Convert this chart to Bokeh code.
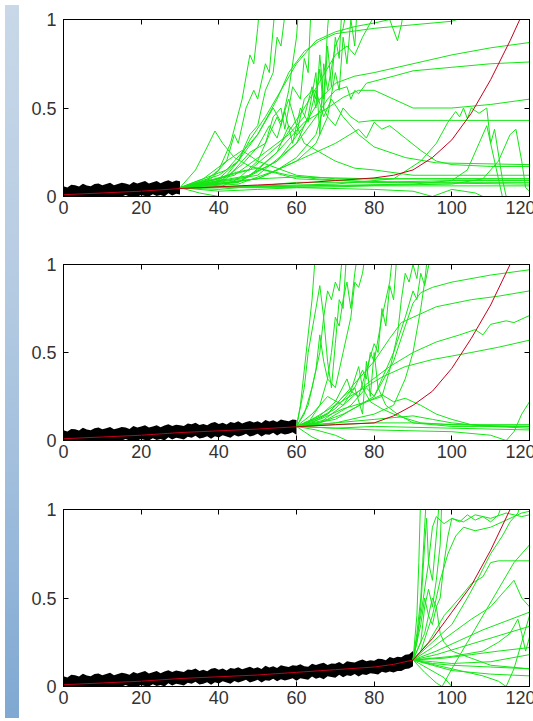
from bokeh.plotting import figure
from bokeh.models import Div, FixedTicker, LinearAxis, Range1d
from bokeh.layouts import row, column
from bokeh.embed import file_html
from bokeh.resources import INLINE

# ---------------- data ----------------
X_TICKS = [0, 20, 40, 60, 80, 100, 120]
Y_TICKS = [0, 0.5, 1]
Y_LABELS = {0: "0", 0.5: "0.5", 1: "1"}

# noisy observation band (shared), x = 0..90
OBS_X = list(range(0, 91))
OBS_HI = [.058,.051,.066,.064,.057,.072,.062,.058,.070,.074,
          .064,.070,.077,.064,.070,.077,.074,.066,.082,.074,
          .080,.087,.074,.080,.087,.075,.085,.092,.082,.090,
          .086,.082,.096,.093,.101,.088,.094,.086,.100,.105,
          .094,.101,.091,.105,.100,.109,.097,.105,.111,.102,
          .109,.099,.117,.108,.115,.105,.120,.114,.110,.120,
          .117,.126,.115,.112,.128,.122,.128,.134,.122,.130,
          .128,.138,.126,.143,.138,.135,.146,.153,.143,.149,
          .145,.157,.155,.149,.167,.160,.168,.165,.179,.182,
          .200]
OBS_LO = [.000,.000,.000,.000,.000,.000,.000,.000,.000,.000,
          .002,.000,.000,.002,.000,.000,.009,.000,.003,.000,
          .008,.003,.000,.013,.003,.009,.000,.019,.006,.015,
          .011,.005,.021,.016,.027,.011,.016,.024,.010,.024,
          .017,.030,.023,.016,.031,.023,.029,.038,.023,.029,
          .038,.023,.036,.032,.044,.029,.041,.034,.039,.047,
          .032,.046,.042,.038,.056,.044,.051,.041,.058,.053,
          .050,.066,.052,.063,.060,.071,.057,.069,.065,.075,
          .072,.068,.084,.077,.085,.079,.088,.088,.099,.102,
          .115]

# true degradation curves
RED_X = [0, 10, 20, 30, 40, 50, 60, 70, 80, 85, 90, 95, 100, 105, 110, 115, 120]
RED_Y1 = [.01, .02, .03, .045, .055, .065, .075, .09, .105, .12, .15, .22, .32, .47, .66, .88, 1.12]
RED_Y2 = [.01, .02, .03, .045, .055, .065, .078, .09, .10, .14, .20, .28, .41, .58, .77, 1.0, 1.2]
RED_Y3 = [.01, .02, .03, .045, .055, .065, .08, .095, .11, .125, .15, .27, .42, .57, .77, 1.0, 1.2]

# predicted trajectories (green), as (x, y) points
G1 = [
    [(30,.05),(36,.08),(40,.15),(43,.3),(46,.55),(48,.8),(49,.75),(50,.95),(51,1.2)],
    [(30,.05),(38,.07),(42,.12),(45,.2),(48,.35),(50,.4),(52,.6),(54,.7),(55,.9),(56,.85),(58,1.2)],
    [(30,.05),(40,.05),(45,.1),(50,.2),(53,.35),(55,.45),(56,.4),(58,.6),(60,.9),(61,1.2)],
    [(30,.05),(45,.08),(50,.15),(55,.25),(58,.4),(60,.35),(62,.55),(64,.6),(65,.5),(66,.8),(67,.55),(68,.95),(69,1.2)],
    [(30,.05),(45,.07),(55,.15),(60,.22),(65,.35),(67,.5),(68,.45),(70,.7),(71,.6),(72,.9),(73,.75),(74,1.0),(75,.85),(76,1.2)],
    [(30,.05),(40,.1),(45,.2),(48,.32),(52,.45),(56,.6),(60,.75),(65,.88),(70,.93),(75,.96),(80,.98),(84,1.0),(86,.88),(87,.97),(88,1.1)],
    [(30,.05),(42,.15),(50,.35),(55,.55),(58,.7),(62,.82),(66,.88),(70,.92),(80,.95),(90,.97),(100,.99),(104,1.02)],
    [(30,.05),(45,.08),(55,.2),(62,.4),(66,.55),(70,.64),(75,.68),(80,.7),(90,.75),(100,.8),(110,.84),(120,.87)],
    [(30,.05),(50,.12),(60,.3),(65,.45),(68,.55),(70,.6),(73,.62),(74,.55),(75,.6),(76,.58),(78,.64),(85,.68),(90,.71),(100,.73),(110,.75),(120,.76)],
    [(30,.05),(48,.12),(55,.25),(62,.42),(68,.5),(72,.56),(76,.6),(80,.6),(85,.55),(90,.5),(100,.5),(110,.52),(120,.55)],
    [(30,.05),(50,.1),(60,.2),(65,.3),(68,.45),(70,.4),(72,.5),(74,.45),(76,.42),(80,.43),(90,.43),(100,.43),(120,.43)],
    [(30,.05),(40,.12),(45,.2),(50,.35),(54,.5),(56,.42),(58,.55),(60,.4),(62,.3),(66,.25),(70,.2),(75,.16),(80,.15),(90,.12),(100,.12),(120,.12)],
    [(30,.05),(34,.15),(37,.28),(39,.37),(41,.3),(44,.22),(48,.17),(52,.15),(58,.12),(65,.1),(80,.08),(120,.07)],
    [(30,.05),(50,.06),(70,.07),(85,.1),(92,.2),(96,.3),(99,.42),(101,.48),(102,.45),(103,.5),(104,.44),(105,.5),(107,.47),(109,.5),(110,.3),(112,.1),(113,0)],
    [(30,.05),(60,.06),(90,.07),(100,.09),(104,.15),(107,.3),(109,.4),(110,.3),(111,.38),(113,.1),(114,0)],
    [(30,.05),(70,.06),(100,.07),(108,.1),(112,.2),(115,.35),(116.5,.38),(118,.2),(119,.05),(120,.03)],
    [(30,.05),(50,.1),(60,.2),(70,.3),(76,.38),(78,.33),(80,.42),(82,.38),(84,.4),(88,.33),(92,.26),(96,.2),(100,.18),(110,.17),(120,.17)],
    [(30,.05),(40,.04),(50,.06),(60,.08),(80,.08),(100,.09),(120,.09)],
    [(30,.05),(40,.03),(50,.04),(60,.05),(80,.06),(100,.06),(120,.06)],
    [(30,.05),(35,.02),(40,0),(42,-.02)],
    [(30,.05),(40,.07),(50,.1),(60,.11),(80,.1),(100,.1),(120,.1)],
    [(30,.05),(38,.09),(45,.14),(50,.16),(55,.13),(60,.1),(70,.09),(90,.08),(120,.08)],
    [(30,.05),(36,.1),(42,.2),(46,.26),(50,.2),(55,.16),(60,.12),(70,.1),(120,.1)],
    [(30,.05),(60,.05),(80,.04),(90,.03),(95,0),(100,.04),(106,.02),(108,0)],
    [(30,.05),(38,.1),(42,.2),(44,.35),(45,.3),(47,.5),(49,.6),(50,.55),(52,.75),(53,.7),(54,.95),(55,1.2)],
    [(30,.05),(42,.1),(48,.25),(52,.3),(54,.45),(56,.5),(57,.38),(59,.62),(61,.55),(62,.78),(63,.7),(64,1.2)],
    [(30,.05),(44,.12),(52,.25),(58,.35),(62,.45),(64,.62),(65,.55),(66,.72),(67,.5),(68,.85),(69,.62),(70,.9),(71,.78),(72,1.2)],
    [(30,.05),(46,.1),(55,.2),(60,.3),(63,.45),(65,.7),(66,.35),(67,.75),(68,.6),(70,.85),(72,.95),(74,1.2)],
    [(30,.05),(40,.08),(46,.18),(50,.28),(53,.4),(55,.33),(57,.48),(59,.3),(61,.5),(63,.42),(65,.6),(67,.45),(69,.55),(72,.45),(76,.35),(80,.28),(88,.22),(96,.19),(120,.18)],
    [(30,.05),(48,.15),(56,.3),(62,.5),(66,.65),(70,.8),(73,.85),(75,.8),(77,.9),(79,.98),(82,1.1)],
]

G2 = [
    [(60,.08),(62,.3),(63,.5),(65,.75),(66,.88),(67,.7),(68,.45),(69,.3),(70,.55),(71,.8),(72,.75),(73,1.1)],
    [(60,.08),(61,.2),(62,.4),(63,.6),(64,.8),(65,1.1)],
    [(60,.08),(62,.15),(64,.3),(66,.5),(67,.7),(68,.85),(69,.8),(70,.9),(71,.85),(72,1.1)],
    [(60,.08),(63,.1),(66,.2),(68,.35),(70,.3),(72,.5),(74,.7),(75,.9),(76,.87),(77,.95),(78,1.1)],
    [(60,.08),(64,.1),(68,.15),(72,.25),(75,.3),(77,.4),(78,.35),(79,.5),(80,.45),(82,.7),(84,.9),(85,1.1)],
    [(60,.08),(66,.1),(72,.15),(78,.22),(82,.25),(84,.4),(86,.6),(87,.8),(88,.95),(89,.9),(90,1.0),(91,.92),(92,1.1)],
    [(60,.08),(70,.1),(80,.15),(85,.2),(88,.35),(90,.5),(92,.75),(93,.9),(94,1.1)],
    [(60,.08),(70,.12),(80,.25),(85,.45),(88,.65),(90,.78),(92,.84),(95,.87),(100,.9),(110,.94),(120,.97)],
    [(60,.08),(68,.15),(74,.3),(80,.45),(84,.58),(87,.67),(92,.72),(96,.76),(105,.8),(112,.82),(120,.85)],
    [(60,.08),(66,.1),(72,.2),(78,.32),(84,.42),(90,.5),(96,.56),(102,.6),(106,.63),(108,.6),(110,.66),(114,.68),(116,.67),(120,.71)],
    [(60,.08),(64,.12),(70,.2),(76,.28),(82,.36),(88,.42),(95,.46),(100,.48),(105,.5),(112,.53),(120,.57)],
    [(60,.08),(66,.12),(72,.18),(78,.22),(82,.26),(85,.22),(88,.24),(92,.2),(96,.15),(100,.12),(105,.09),(110,.08),(120,.07)],
    [(60,.08),(64,.15),(68,.25),(72,.2),(75,.3),(77,.15),(78,.45),(79,.25),(80,.5),(81,.3),(83,.2),(86,.15),(90,.1),(100,.08),(120,.08)],
    [(60,.08),(70,.07),(80,.08),(100,.07),(120,.06)],
    [(60,.08),(70,.09),(80,.1),(90,.1),(100,.09),(120,.09)],
    [(60,.08),(62,.05),(64,.02),(66,0),(67,-.02)],
    [(60,.08),(65,.06),(70,.03),(73,0),(74,-.02)],
    [(60,.08),(80,.06),(100,.05),(110,.03),(114,0),(116,.05),(118,.15),(120,.22)],
    [(60,.08),(70,.1),(80,.12),(90,.14),(95,.12),(100,.1),(110,.08),(120,.08)],
    [(60,.08),(63,.2),(65,.4),(66,.6),(67,.45),(68,.35),(69,.5),(70,.7),(71,.65),(72,.8),(73,.9),(74,.75),(75,.95),(76,1.1)],
    [(60,.08),(65,.12),(70,.18),(74,.28),(76,.25),(78,.4),(80,.55),(81,.5),(82,.75),(83,.65),(84,.88),(85,.8),(86,1.1)],
    [(60,.08),(68,.12),(74,.2),(78,.3),(80,.25),(82,.35),(85,.5),(88,.7),(90,.85),(91,.8),(92,.95),(93,.88),(95,1.1)],
    [(60,.08),(66,.14),(70,.22),(73,.35),(74,.28),(76,.42),(77,.3),(79,.22),(82,.18),(86,.14),(92,.1),(100,.09),(120,.08)],
]

G3 = [
    [(90,.15),(91,.4),(91.5,.7),(92,1.1)],
    [(90,.15),(91,.3),(92,.5),(92.5,.7),(93,.9),(93.5,1.1)],
    [(90,.15),(92,.25),(93,.45),(94,.55),(95,.45),(96,.6),(97,.8),(97.5,1.1)],
    [(90,.15),(93,.3),(95,.5),(96,.45),(97,.5),(98,.7),(99,.85),(100,.95),(102,.93),(104,.97),(106,.94),(108,.96),(110,.93),(112,.97),(114,1.1)],
    [(90,.15),(92,.2),(95,.4),(97,.6),(99,.75),(101,.85),(103,.9),(106,.88),(110,.9),(115,.95),(118,.98),(120,.99)],
    [(90,.15),(94,.25),(98,.4),(102,.5),(105,.58),(108,.62),(110,.7),(112,.71),(116,.71),(120,.71)],
    [(90,.15),(95,.22),(100,.3),(105,.38),(110,.45),(114,.55),(116,.6),(118,.5),(120,.45)],
    [(90,.15),(96,.2),(102,.26),(108,.32),(114,.37),(120,.42)],
    [(90,.15),(96,.18),(102,.22),(108,.26),(114,.3),(120,.34)],
    [(90,.15),(98,.16),(105,.18),(112,.2),(120,.22)],
    [(90,.15),(95,.13),(100,.12),(110,.11),(120,.1)],
    [(90,.15),(95,.12),(100,.09),(110,.07),(120,.06)],
    [(90,.15),(94,.1),(98,.05),(100,0),(101,-.02)],
    [(90,.15),(93,.08),(96,.02),(97.5,0),(100,.1),(104,.25),(108,.4),(112,.55),(116,.7),(120,.8)],
    [(90,.15),(100,.1),(108,.06),(112,.03),(114,0),(116,.1),(118,.25),(120,.4)],
    [(90,.15),(92,.35),(93,.5),(94,.4),(95,.35),(96,.45),(97,.3),(98,.25),(100,.2),(105,.16),(110,.12),(120,.1)],
    [(90,.15),(91,.25),(92,.45),(93,.8),(93.5,.95),(94,.7),(95,.6),(96,.85),(97,1.1)],
    [(90,.15),(95,.25),(100,.35),(104,.5),(107,.62),(110,.75),(113,.85),(115,.93),(117,.98),(118,1.05)],
    [(90,.15),(100,.17),(108,.2),(112,.25),(115,.3),(117,.38),(118,.3),(119,.2),(120,.28)],
    [(90,.15),(95,.14),(100,.13),(110,.14),(115,.16),(120,.18)],
    [(90,.15),(92,.4),(94,.7),(95,.9),(96,.96),(98,.92),(100,.95),(103,.93),(106,.97),(110,.95),(114,.98),(118,.96),(120,.97)],
]

# ---------------- styling ----------------
FONT = "Liberation Sans"
FONT_SIZE = "18px"
GREEN = "#14e614"
RED = "#c4001c"


def style_axis(ax, show_labels):
    ax.axis_line_color = "black"
    ax.major_tick_line_color = "black"
    ax.major_tick_in = 5
    ax.major_tick_out = 0
    ax.minor_tick_line_color = None
    if show_labels:
        ax.major_label_text_font = FONT
        ax.major_label_text_font_size = FONT_SIZE
        ax.major_label_text_color = "#333333"
    else:
        ax.major_label_text_font_size = "1px"
        ax.major_label_text_color = None
        ax.major_label_standoff = 0


def make_panel(height, top, bottom, n_obs, red_y, green):
    p = figure(width=511, height=height,
               x_range=Range1d(0, 120), y_range=Range1d(0, 1),
               output_backend="svg", toolbar_location=None,
               min_border_left=39, min_border_right=6,
               min_border_top=top, min_border_bottom=bottom,
               background_fill_color="white", border_fill_color="white")
    p.outline_line_color = "black"
    p.xgrid.visible = False
    p.ygrid.visible = False

    for ax in p.xaxis:
        ax.ticker = FixedTicker(ticks=X_TICKS)
        style_axis(ax, True)
        ax.major_label_standoff = 4
    for ax in p.yaxis:
        ax.ticker = FixedTicker(ticks=Y_TICKS)
        ax.major_label_overrides = Y_LABELS
        style_axis(ax, True)
        ax.major_label_standoff = 7

    top_ax = LinearAxis(ticker=FixedTicker(ticks=X_TICKS))
    style_axis(top_ax, False)
    p.add_layout(top_ax, "above")
    right_ax = LinearAxis(ticker=FixedTicker(ticks=Y_TICKS))
    style_axis(right_ax, False)
    p.add_layout(right_ax, "right")

    p.varea(x=OBS_X[:n_obs], y1=OBS_LO[:n_obs], y2=OBS_HI[:n_obs],
            fill_color="black")
    xs = [[pt[0] for pt in tr] for tr in green]
    ys = [[pt[1] for pt in tr] for tr in green]
    p.multi_line(xs=xs, ys=ys, line_color=GREEN, line_width=1)
    p.line(RED_X, red_y, line_color=RED, line_width=1)
    return p


p1 = make_panel(245, 19, 49, 31, RED_Y1, G1)
p2 = make_panel(245, 19, 50, 61, RED_Y2, G2)
p3 = make_panel(223, 19, 27, 91, RED_Y3, G3)

left_strip = Div(text="", width=14, height=713,
                 styles={"background": "linear-gradient(to bottom, #c8d8e8 0%, #b8cde3 35%, #a2bfdd 65%, #7fa8d2 100%)"})

layout = row(left_strip, column(p1, p2, p3))

open("out.html", "w").write(file_html(layout, INLINE))
